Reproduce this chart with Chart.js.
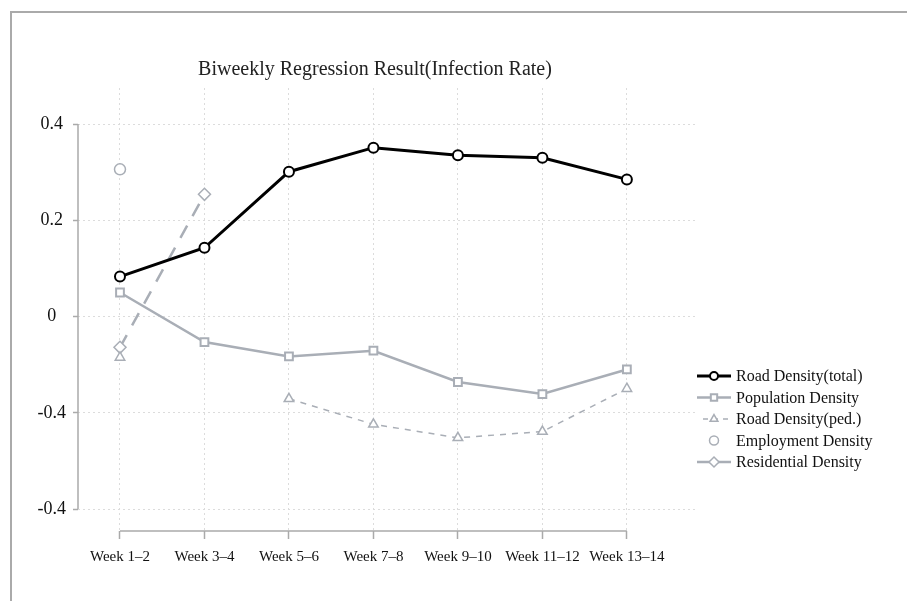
<!DOCTYPE html>
<html>
<head>
<meta charset="utf-8">
<script src="https://cdn.jsdelivr.net/npm/chart.js@4.4.0/dist/chart.umd.min.js"></script>
<style>
  html, body { margin: 0; padding: 0; background: #fff; }
  #wrap { position: relative; width: 907px; height: 601px; overflow: hidden; }
  #frame { position: absolute; left: 10px; top: 11px; width: 1000px; height: 700px;
           border-top: 2px solid #aaa; border-left: 2px solid #aaa; }
  canvas { position: absolute; left: 0; top: 0; }
</style>
</head>
<body>
<div id="wrap">
  <div id="frame"></div>
  <canvas id="chart" width="907" height="601"></canvas>
</div>
<script>
// categories and values
const weeks = ['Week 1–2', 'Week 3–4', 'Week 5–6', 'Week 7–8', 'Week 9–10', 'Week 11–12', 'Week 13–14'];
const roadTotal = [0.083, 0.143, 0.301, 0.351, 0.335, 0.330, 0.285];
const population = [0.050, -0.053, -0.083, -0.071, -0.136, -0.161, -0.110];
const roadPed = [-0.085, null, -0.171, -0.224, -0.252, -0.239, -0.150];
const employment = [0.306, null, null, null, null, null, null];
const residential = [-0.064, 0.254, null, null, null, null, null];

// y ticks as printed in the original (labels kept as shown)
const yTickValues = [0.4, 0.2, 0, -0.2, -0.4];
const yTickLabels = ['0.4', '0.2', '0', '-0.4', '-0.4'];

const gray = '#a9aeb6';
const serif = '"Liberation Serif", "Times New Roman", serif';

const toPoints = arr => arr.map((v, i) => ({ x: i, y: v }));

const datasets = [
  {
    label: 'Road Density(total)',
    data: toPoints(roadTotal),
    borderColor: '#000', borderWidth: 3,
    pointStyle: 'circle', pointRadius: 5, pointBorderWidth: 2,
    pointBackgroundColor: '#fff', pointBorderColor: '#000'
  },
  {
    label: 'Population Density',
    data: toPoints(population),
    borderColor: gray, borderWidth: 2.5,
    pointStyle: 'rect', pointRadius: 5.5, pointBorderWidth: 2,
    pointBackgroundColor: '#fff', pointBorderColor: gray
  },
  {
    label: 'Road Density(ped.)',
    data: toPoints(roadPed),
    borderColor: gray, borderWidth: 1.5, borderDash: [6, 6],
    pointStyle: 'triangle', pointRadius: 5.5, pointBorderWidth: 1.5,
    pointBackgroundColor: '#fff', pointBorderColor: gray
  },
  {
    label: 'Employment Density',
    data: toPoints(employment),
    showLine: false,
    borderColor: gray, borderWidth: 1.5,
    pointStyle: 'circle', pointRadius: 5.5, pointBorderWidth: 1.5,
    pointBackgroundColor: '#fff', pointBorderColor: gray
  },
  {
    label: 'Residential Density',
    data: toPoints(residential),
    borderColor: gray, borderWidth: 2.5, borderDash: [14, 11],
    legendDash: [],
    pointStyle: 'rectRot', pointRadius: 6, pointBorderWidth: 1.5,
    pointBackgroundColor: '#fff', pointBorderColor: gray
  }
];

// axis lines, title and legend drawn by hand
const decor = {
  id: 'decor',
  beforeDatasetsDraw(chart) {
    const { ctx, chartArea, scales: { x, y } } = chart;
    ctx.save();
    ctx.strokeStyle = '#aaa';
    ctx.lineWidth = 1.5;
    ctx.beginPath();
    ctx.moveTo(chartArea.left, y.getPixelForValue(yTickValues[0]));
    ctx.lineTo(chartArea.left, y.getPixelForValue(yTickValues[yTickValues.length - 1]));
    ctx.moveTo(x.getPixelForValue(0), chartArea.bottom);
    ctx.lineTo(x.getPixelForValue(weeks.length - 1), chartArea.bottom);
    ctx.stroke();
    ctx.restore();
  },
  afterDraw(chart) {
    const { ctx } = chart;
    ctx.save();
    ctx.fillStyle = '#222';
    ctx.font = '20px ' + serif;
    ctx.textAlign = 'center';
    ctx.textBaseline = 'middle';
    ctx.fillText('Biweekly Regression Result(Infection Rate)', 375, 70);

    // legend
    ctx.font = '16px ' + serif;
    ctx.textAlign = 'left';
    chart.data.datasets.forEach((ds, i) => {
      const yy = 376 + i * 21.5;
      if (ds.showLine !== false) {
        ctx.strokeStyle = ds.borderColor;
        ctx.lineWidth = ds.borderWidth;
        const dash = ds.legendDash || ds.borderDash || [];
        ctx.setLineDash(dash.length ? [5, 5] : []);
        ctx.beginPath();
        ctx.moveTo(dash.length ? 703 : 697, yy);
        ctx.lineTo(dash.length ? 728 : 731, yy);
        ctx.stroke();
        ctx.setLineDash([]);
      }
      ctx.fillStyle = ds.pointBackgroundColor;
      ctx.strokeStyle = ds.pointBorderColor;
      ctx.lineWidth = ds.pointBorderWidth;
      Chart.helpers.drawPoint(ctx, {
        pointStyle: ds.pointStyle, radius: ds.pointRadius - 1, rotation: 0,
        borderWidth: ds.pointBorderWidth
      }, 714, yy);
      ctx.fillStyle = '#111';
      ctx.fillText(ds.label, 736, yy + 1);
    });
    ctx.restore();
  }
};

new Chart(document.getElementById('chart'), {
  type: 'line',
  data: { datasets },
  plugins: [decor],
  options: {
    responsive: false,
    maintainAspectRatio: false,
    devicePixelRatio: 1,
    animation: false,
    spanGaps: false,
    layout: { padding: { top: 88, right: 210, left: 0, bottom: 0 } },
    elements: { line: { tension: 0 } },
    plugins: { legend: { display: false }, title: { display: false }, tooltip: { enabled: false } },
    scales: {
      x: {
        type: 'linear',
        min: -0.497,
        max: 6.83,
        afterBuildTicks: s => { s.ticks = weeks.map((w, i) => ({ value: i })); },
        afterFit: s => { s.height = 70; },
        ticks: {
          autoSkip: false, maxRotation: 0,
          padding: 9,
          color: '#111',
          font: { family: serif, size: 15 },
          callback: v => weeks[v]
        },
        grid: {
          color: '#dcdcdc', lineWidth: 1,
          tickColor: '#aaa', tickLength: 8, tickWidth: 1.5, tickBorderDash: []
        },
        border: { display: false, dash: [2, 3] }
      },
      y: {
        min: -0.4457,
        max: 0.475,
        afterBuildTicks: s => { s.ticks = yTickValues.map(v => ({ value: v })); },
        afterFit: s => { s.width = 78; },
        ticks: {
          crossAlign: 'center',
          padding: 7,
          color: '#111',
          font: { family: serif, size: 18 },
          callback: (v, i) => yTickLabels[i]
        },
        grid: {
          color: '#dcdcdc', lineWidth: 1,
          tickColor: '#aaa', tickLength: 5, tickWidth: 1.5, tickBorderDash: []
        },
        border: { display: false, dash: [2, 3] }
      }
    }
  }
});
</script>
</body>
</html>
